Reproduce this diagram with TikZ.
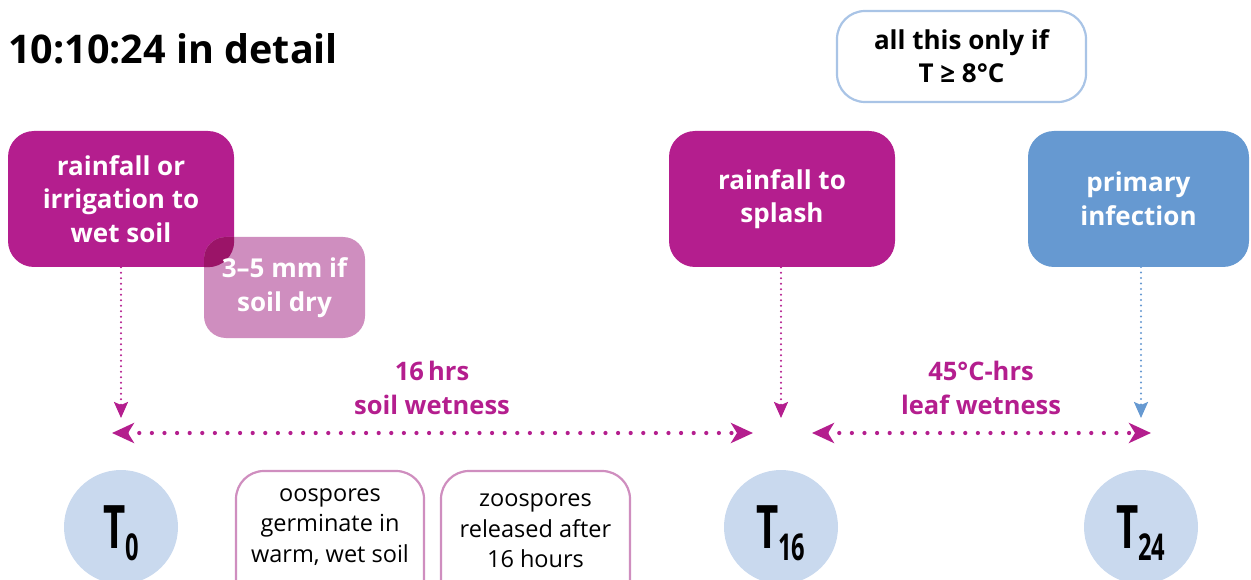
\documentclass[tikz,border=0pt]{standalone}
\usepackage{fontspec}
\setmainfont{Open Sans}
\usetikzlibrary{arrows.meta}
\definecolor{mag}{HTML}{B41E8E}
\definecolor{lpink}{HTML}{CF8EBF}
\definecolor{dpink}{HTML}{9B1468}
\definecolor{bbox}{HTML}{6699D1}
\definecolor{circ}{HTML}{C9D9EE}
\definecolor{infob}{HTML}{A9C4E6}
\tikzset{
  bigbox/.style={rectangle, rounded corners=26pt, minimum width=226pt, minimum height=136pt, inner sep=0pt,
     text=white, font=\bfseries\fontsize{26}{33.5}\selectfont, align=center},
  smallbox/.style={rectangle, rounded corners=28pt, draw=lpink, line width=2.2pt, fill=white, inner sep=0pt},
  smalltext/.style={font=\fontsize{23.5}{30.5}\selectfont, align=center, text=black, inner sep=0pt},
  tcirc/.style={circle, fill=circ, minimum size=114pt, inner sep=0pt, text depth=0pt, text=black},
  vdot/.style={line width=2.2pt, line cap=round, dash pattern=on 0pt off 5.5pt},
  hdot/.style={line width=4.2pt, line cap=round, dash pattern=on 0pt off 12.6pt, draw=mag},
  vtip/.style={-{Stealth[length=16pt,width=14pt,inset=3pt]}},
  htip/.style={{Stealth[length=22pt,width=20pt,inset=6pt]}-{Stealth[length=22pt,width=20pt,inset=6pt]}},
  magtext/.style={text=mag, font=\bfseries\fontsize{25.5}{34}\selectfont, align=center, inner sep=0pt},
}
\newcommand{\Tlab}[1]{\fontsize{60}{60}\selectfont\bfseries\scalebox{0.64}[1]{T\kern-1pt\raisebox{-12pt}{\fontsize{37}{37}\selectfont #1}}}
\begin{document}
\begin{tikzpicture}[x=1pt,y=-1pt]
\useasboundingbox (0,0) rectangle (1251,580);
% title
\node[anchor=base west, inner sep=0pt, font=\bfseries\fontsize{39.5}{40}\selectfont] (title) at (8,64) {10:10:24 in detail};
% info box
\node[rectangle, rounded corners=28pt, draw=infob, line width=2.2pt, fill=white, minimum width=249pt, minimum height=91pt,
      inner sep=0pt, align=center, font=\bfseries\fontsize{26}{33}\selectfont] (info) at (961.5,56.5) {all this only if\\T ≥ 8°C};
% big boxes
\node[bigbox, fill=mag] (rain) at (121,199) {rainfall or\\irrigation to\\wet soil};
\node[bigbox, fill=lpink, minimum width=161pt, minimum height=101pt, rounded corners=22pt,
      path picture={\fill[dpink, rounded corners=26pt] (rain.south west) rectangle (rain.north east);}]
      (dry) at (284.5,287.5) {3–5 mm if\\soil dry};
\node[bigbox, fill=mag] (splash) at (782,199) {rainfall to\\splash};
\node[bigbox, fill=bbox, minimum width=221pt] (prim) at (1138.5,199) {primary\\infection};
% circles
\node[tcirc] (T0) at (121,527) {\Tlab{0}};
\node[tcirc] (T16) at (781,527) {\Tlab{16}};
\node[tcirc] (T24) at (1141,527) {\Tlab{24}};
% small boxes
\node[smallbox, minimum width=188pt, minimum height=140pt] (oo) at (330,541) {};
\node[smalltext] (ootext) at (330,527) {oospores\\germinate in\\warm, wet soil};
\node[smallbox, minimum width=189pt, minimum height=140pt] (zoo) at (535.5,541) {};
\node[smalltext] (zootext) at (535.5,531) {zoospores\\released after\\16 hours};
% labels
\node[magtext] (lab1) at (432,388) {16\,hrs\\soil wetness};
\node[magtext] (lab2) at (981,388) {45°C-hrs\\leaf wetness};
% coordinates
\coordinate (v0) at (121,418);
\coordinate (v16) at (781,418);
\coordinate (p1) at (1141,267);
\coordinate (v24) at (1141,418);
\coordinate (h1a) at (112,433);
\coordinate (h1b) at (753,433);
\coordinate (h2a) at (812,433);
\coordinate (h2b) at (1151,433);
% connectors
\draw[vdot, draw=mag, vtip] (rain.south) -- (v0);
\draw[vdot, draw=mag, vtip] (splash.south -| v16) -- (v16);
\draw[vdot, draw=bbox, vtip] (p1) -- (v24);
\draw[hdot, htip] (h1a) -- (h1b);
\draw[hdot, htip] (h2a) -- (h2b);
\end{tikzpicture}
\end{document}
